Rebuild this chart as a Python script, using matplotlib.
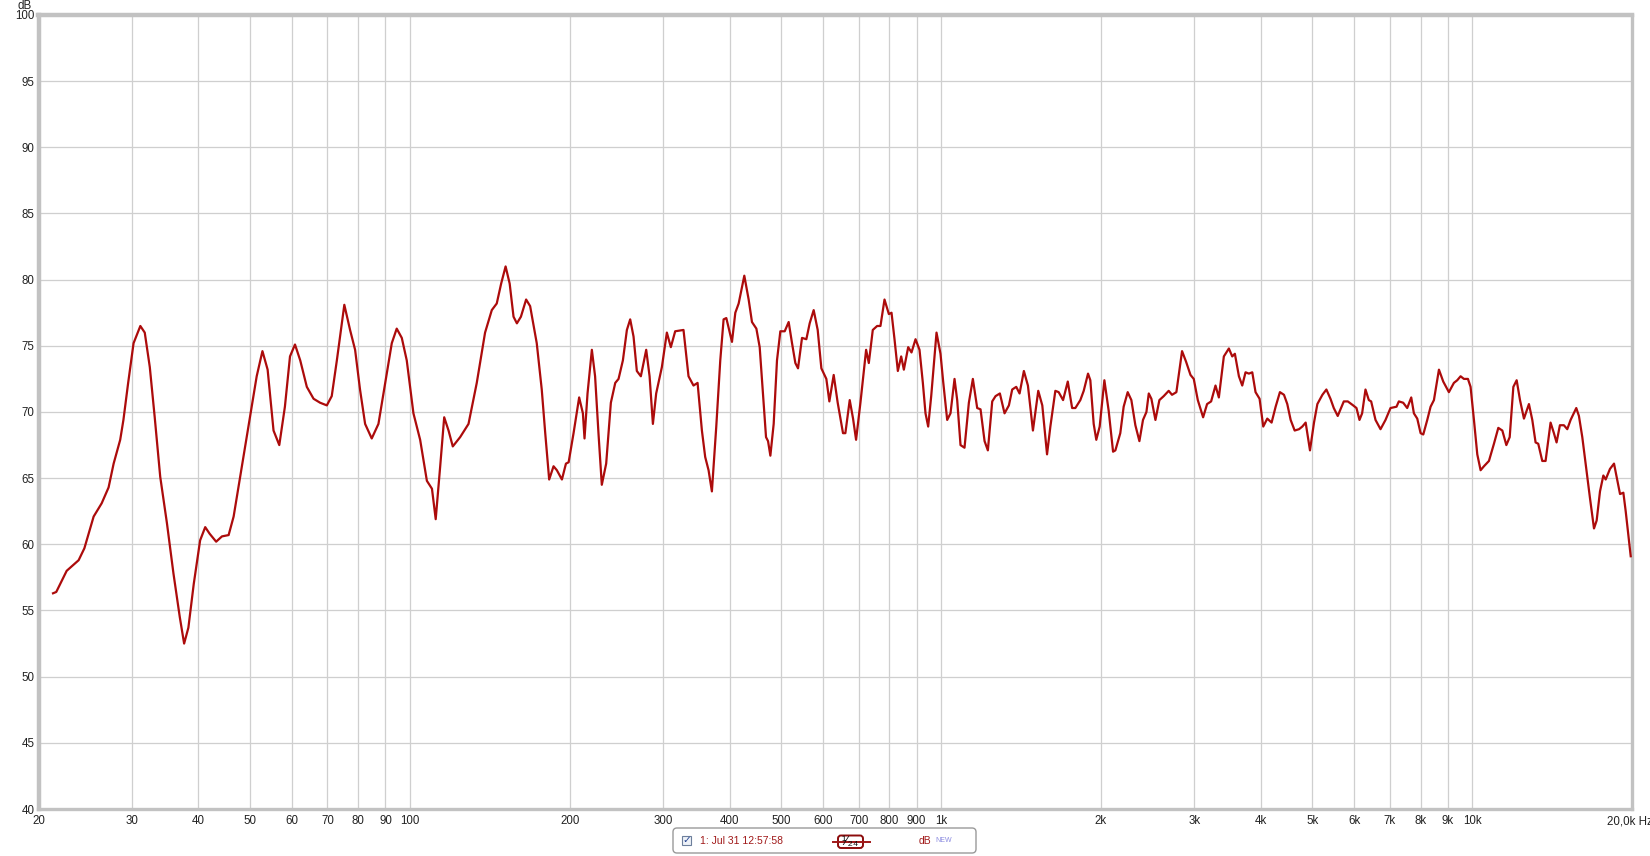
import matplotlib
matplotlib.use("Agg")
import matplotlib.pyplot as plt
from matplotlib.patches import FancyBboxPatch, Rectangle
from matplotlib.lines import Line2D
from matplotlib.ticker import NullLocator

freq_hz = [
    21.3, 21.6, 22.6, 23.8, 24.4, 25.4, 26.3, 27.1, 27.7, 28.5, 28.9, 29.5, 30.2, 31.1, 31.7,
    32.4, 33.1, 33.9, 34.9, 35.9, 36.9, 37.6, 38.3, 39.2, 40.3, 41.2, 42.0, 43.2, 44.3, 45.6,
    46.6, 48.3, 50.0, 51.5, 52.8, 54.0, 55.4, 56.8, 58.2, 59.5, 60.8, 62.2, 64.0, 65.9, 67.8,
    69.8, 71.3, 72.9, 75.3, 77.2, 78.9, 80.6, 82.4, 84.8, 87.3, 89.9, 92.5, 94.5, 96.6,
    98.7, 101.6, 104.6, 107.7, 110.1, 111.9, 114.1, 116.1, 118.3, 120.5, 124.4, 129.0, 133.7,
    138.6, 142.7, 145.8, 148.6, 151.5, 154.2, 156.8, 159.1, 161.9, 165.6, 168.5, 173.4, 177.2,
    179.9, 183.0, 186.5, 189.2, 193.4, 196.8, 199.1, 203.4, 208.4, 211.8, 213.3, 216.1, 220.2,
    223.3, 226.6, 229.9, 234.3, 239.1, 243.7, 247.2, 251.9, 256.3, 260.0, 263.8, 267.6, 272.3,
    278.7, 282.8, 286.9, 291.0, 298.3, 304.8, 310.1, 316.0, 327.6, 334.8, 342.1, 348.2, 354.8,
    359.9, 365.2, 370.5, 377.6, 384.2,
    389.8, 394.4, 404.2, 410.1, 416.1, 426.4, 434.5, 440.8, 449.3, 455.8, 462.4, 468.5, 472.6,
    477.4, 484.3, 491.3, 498.5, 508.0, 516.8, 524.4, 532.0, 538.2, 547.6, 558.0, 566.1, 576.0,
    586.1, 595.5, 608.5, 616.5, 628.2, 639.2, 654.1, 660.8, 673.4, 683.2, 692.2, 705.4, 723.0,
    731.5, 744.2, 758.4, 769.4, 783.0, 797.9, 807.2, 817.7, 829.6, 841.7, 851.5, 867.7, 880.2,
    895.7, 911.3, 924.6, 935.3, 946.2, 958.7, 981.0, 998.1, 1009.7, 1027.5, 1042.3, 1060.7,
    1073.0, 1088.6, 1107.6, 1128.7, 1148.4, 1170.2, 1187.3, 1208.2, 1225.6, 1249.0, 1267.2,
    1291.1, 1317.5, 1342.6, 1362.0, 1386.0, 1406.2, 1432.7, 1458.0, 1490.0, 1524.8, 1551.7,
    1584, 1607, 1642, 1666, 1698, 1733, 1766, 1791, 1830, 1857, 1892, 1911, 1939, 1961, 1990,
    2031, 2069, 2109, 2130, 2176, 2208, 2247, 2283, 2323, 2364, 2401, 2437, 2462, 2490, 2534,
    2578, 2627, 2684, 2723, 2775, 2844, 2894, 2950, 2992, 3045, 3116, 3170, 3226, 3288, 3336,
    3409, 3484, 3535, 3576, 3639, 3692, 3745, 3800, 3856, 3911, 3980, 4044, 4115, 4193, 4267,
    4347, 4424, 4488, 4554, 4634, 4722, 4790, 4860, 4952, 5039, 5113, 5226, 5317,
    5412, 5490, 5585, 5734, 5834, 5971, 6058, 6137, 6208, 6299, 6391, 6456, 6579, 6723, 6870,
    7021, 7206, 7279, 7418, 7548, 7681, 7770, 7884, 7999, 8092, 8233, 8353, 8475, 8661, 8824,
    9043, 9241, 9376, 9513, 9651, 9821, 9934, 10080, 10227, 10375, 10527, 10757, 10993, 11203,
    11400, 11600, 11770, 11958, 12131, 12308, 12520, 12794, 12981, 13168, 13321, 13555, 13751,
    14052, 14257, 14422, 14632, 14888, 15106, 15326, 15708, 15890, 16123, 16358, 16668, 16962,
    17159, 17409, 17664, 17843, 18179, 18500, 18714, 18988, 19265, 19461, 19688, 19889,
]
level_db = [
    56.3, 56.4, 58.0, 58.8, 59.7, 62.1, 63.1, 64.3, 66.1, 67.9, 69.4, 72.2, 75.2, 76.5, 76.0,
    73.4, 69.6, 65.1, 61.6, 57.8, 54.5, 52.5, 53.7, 57.0, 60.3, 61.3, 60.8, 60.2, 60.6, 60.7,
    62.1, 65.9, 69.6, 72.7, 74.6, 73.2, 68.6, 67.5, 70.4, 74.2, 75.1, 73.9, 71.9, 71.0, 70.7,
    70.5, 71.2, 73.9, 78.1, 76.2, 74.7, 71.7, 69.1, 68.0, 69.1, 72.2, 75.2, 76.3, 75.6,
    73.9, 69.9, 67.9, 64.8, 64.2, 61.9, 65.9, 69.6, 68.6, 67.4, 68.1, 69.1, 72.2,
    76.0, 77.7, 78.2, 79.7, 81.0, 79.7, 77.2, 76.7, 77.2, 78.5, 78.0, 75.2, 71.7,
    68.4, 64.9, 65.9, 65.6, 64.9, 66.1, 66.2, 68.4, 71.1, 69.9, 68.0, 71.4, 74.7,
    72.7, 68.4, 64.5, 66.1, 70.7, 72.2, 72.5, 73.9, 76.2, 77.0, 75.7, 73.1, 72.7,
    74.7, 72.7, 69.1, 71.4, 73.4, 76.0, 74.9, 76.1, 76.2, 72.7, 72.0, 72.2, 68.6,
    66.6, 65.6, 64.0, 68.9, 73.9,
    77.0, 77.1, 75.3, 77.5, 78.2, 80.3, 78.5, 76.8, 76.3, 74.9, 71.4, 68.1, 67.8,
    66.7, 69.1, 73.9, 76.1, 76.1, 76.8, 75.2, 73.7, 73.3, 75.6, 75.5, 76.7, 77.7,
    76.2, 73.3, 72.5, 70.8, 72.8, 70.7, 68.4, 68.4, 70.9, 69.5, 67.9, 70.7, 74.7,
    73.7, 76.2, 76.5, 76.5, 78.5, 77.4, 77.5, 75.5, 73.1, 74.2, 73.2, 74.9, 74.5,
    75.5, 74.7, 72.2, 69.9, 68.9, 71.2, 76.0, 74.4, 72.3, 69.4, 69.9, 72.5,
    70.9, 67.5, 67.3, 70.7, 72.5, 70.3, 70.2, 67.8, 67.1, 70.8, 71.2,
    71.4, 69.9, 70.5, 71.7, 71.9, 71.4, 73.1, 72.0, 68.6, 71.6, 70.5,
    66.8, 68.9, 71.6, 71.5, 70.9, 72.3, 70.3, 70.3, 70.9, 71.6, 72.9, 72.4, 69.1, 67.9, 68.9,
    72.4, 70.1, 67.0, 67.1, 68.4, 70.4, 71.5, 70.9, 69.0, 67.8, 69.4, 70.0, 71.4, 71.0, 69.4,
    70.9, 71.2, 71.6, 71.3, 71.5, 74.6, 73.8, 72.8, 72.5, 70.9, 69.6, 70.6, 70.8, 72.0, 71.1,
    74.2, 74.8, 74.2, 74.4, 72.7, 72.0, 73.0, 72.9, 73.0, 71.5, 71.0, 68.9, 69.5, 69.2, 70.4,
    71.5, 71.3, 70.6, 69.4, 68.6, 68.7, 68.9, 69.2, 67.1, 69.2, 70.6, 71.3, 71.7,
    71.0, 70.3, 69.7, 70.8, 70.8, 70.5, 70.3, 69.4, 69.9, 71.7, 70.9, 70.8, 69.4, 68.7, 69.4,
    70.3, 70.4, 70.8, 70.7, 70.3, 71.1, 69.9, 69.5, 68.4, 68.3, 69.4, 70.4, 70.9, 73.2, 72.3,
    71.5, 72.2, 72.4, 72.7, 72.5, 72.5, 71.9, 69.4, 66.8, 65.6, 65.9, 66.3, 67.6, 68.8,
    68.6, 67.5, 68.1, 71.9, 72.4, 70.9, 69.5, 70.6, 69.4, 67.7, 67.6, 66.3, 66.3,
    69.2, 68.4, 67.7, 69.0, 69.0, 68.7, 69.4, 70.3, 69.7, 68.1, 66.1, 63.5, 61.2,
    61.8, 64.0, 65.2, 64.9, 65.7, 66.1, 65.1, 63.8, 63.9, 62.5, 60.7, 59.1,
]

x_ticks = [20, 30, 40, 50, 60, 70, 80, 90, 100, 200, 300, 400, 500, 600, 700, 800, 900,
           1000, 2000, 3000, 4000, 5000, 6000, 7000, 8000, 9000, 10000, 20000]
x_labels = ["20", "30", "40", "50", "60", "70", "80", "90", "100", "200", "300", "400",
            "500", "600", "700", "800", "900", "1k", "2k", "3k", "4k", "5k", "6k", "7k",
            "8k", "9k", "10k", ""]
y_ticks = list(range(40, 101, 5))

plt.rcParams['font.family'] = ['Liberation Sans', 'DejaVu Sans']

W, H = 1650, 856
fig = plt.figure(figsize=(W / 100, H / 100), dpi=100)
fig.patch.set_facecolor('white')

x0, x1, ytop, ybot = 38.5, 1632, 15, 809
ax = fig.add_axes([x0 / W, 1 - ybot / H, (x1 - x0) / W, (ybot - ytop) / H])

ax.plot(freq_hz, level_db, color='#ac0b0b', lw=1.6, solid_joinstyle='round', zorder=3)

ax.set_xscale('log')
ax.set_xlim(20, 20000)
ax.set_ylim(40, 100)
ax.set_xticks(x_ticks)
ax.set_xticklabels(x_labels)
ax.xaxis.set_minor_locator(NullLocator())
ax.set_yticks(y_ticks)
ax.tick_params(length=0, labelsize=8.3, colors='#222222')
ax.tick_params(axis='x', pad=4.5)
ax.tick_params(axis='y', pad=3)
ax.grid(True, color='#cfcfcf', lw=0.9, zorder=0)

for side, lw in [('left', 3.2), ('top', 3.2), ('right', 2.4), ('bottom', 2.4)]:
    ax.spines[side].set_color('#c2c2c2')
    ax.spines[side].set_linewidth(lw)

ax.annotate("20,0k Hz", xy=(20000, 0), xycoords=('data', 'axes fraction'),
            xytext=(-25, -6.5), textcoords='offset pixels', ha='left', va='top',
            fontsize=8.3, color='#222222')
fig.text(25 / W, 1 - 6 / H, "dB", ha='center', va='center', fontsize=8.3, color='#222222')

# legend strip under the plot, drawn in inches (px / 100)
tr = fig.dpi_scale_trans
box = FancyBboxPatch((6.73, 0.03), 3.03, 0.25, boxstyle="round,pad=0,rounding_size=0.04",
                     transform=tr, facecolor='white', edgecolor='#9a9a9a', lw=1.0)
fig.patches.append(box)
chk = Rectangle((6.82, (H - 845) / 100), 0.09, 0.09, transform=tr,
                facecolor='#eef2f8', edgecolor='#6d7f9c', lw=0.8)
fig.patches.append(chk)
fig.text(6.865, (H - 840.5) / 100, "\u2713", transform=tr, ha='center', va='center',
         fontsize=7.5, color='#1f3f8f', fontweight='bold')
fig.text(7.00, (H - 841.5) / 100, "1: Jul 31 12:57:58", transform=tr, ha='left',
         va='center', fontsize=7.5, color='#a01818')
fig.add_artist(Line2D([8.33, 8.70], [(H - 841.5) / 100] * 2, transform=tr,
                      color='#a01818', lw=1.4))
sm = FancyBboxPatch((8.38, (H - 848) / 100), 0.25, 0.125,
                    boxstyle="round,pad=0,rounding_size=0.03", transform=tr,
                    facecolor='white', edgecolor='#8c0c0c', lw=1.4)
fig.patches.append(sm)
fig.text(8.505, (H - 842) / 100, "\u00b9\u2044\u2082\u2084", transform=tr, ha='center',
         va='center', fontsize=9.5, color='#111111')
fig.text(9.19, (H - 841.5) / 100, "dB", transform=tr, ha='left', va='center',
         fontsize=7.5, color='#a01818')
fig.text(9.355, (H - 844) / 100, "NEW", transform=tr, ha='left', va='bottom',
         fontsize=5, color='#8a8ae0')

fig.savefig("out.png", dpi=100, facecolor='white')
